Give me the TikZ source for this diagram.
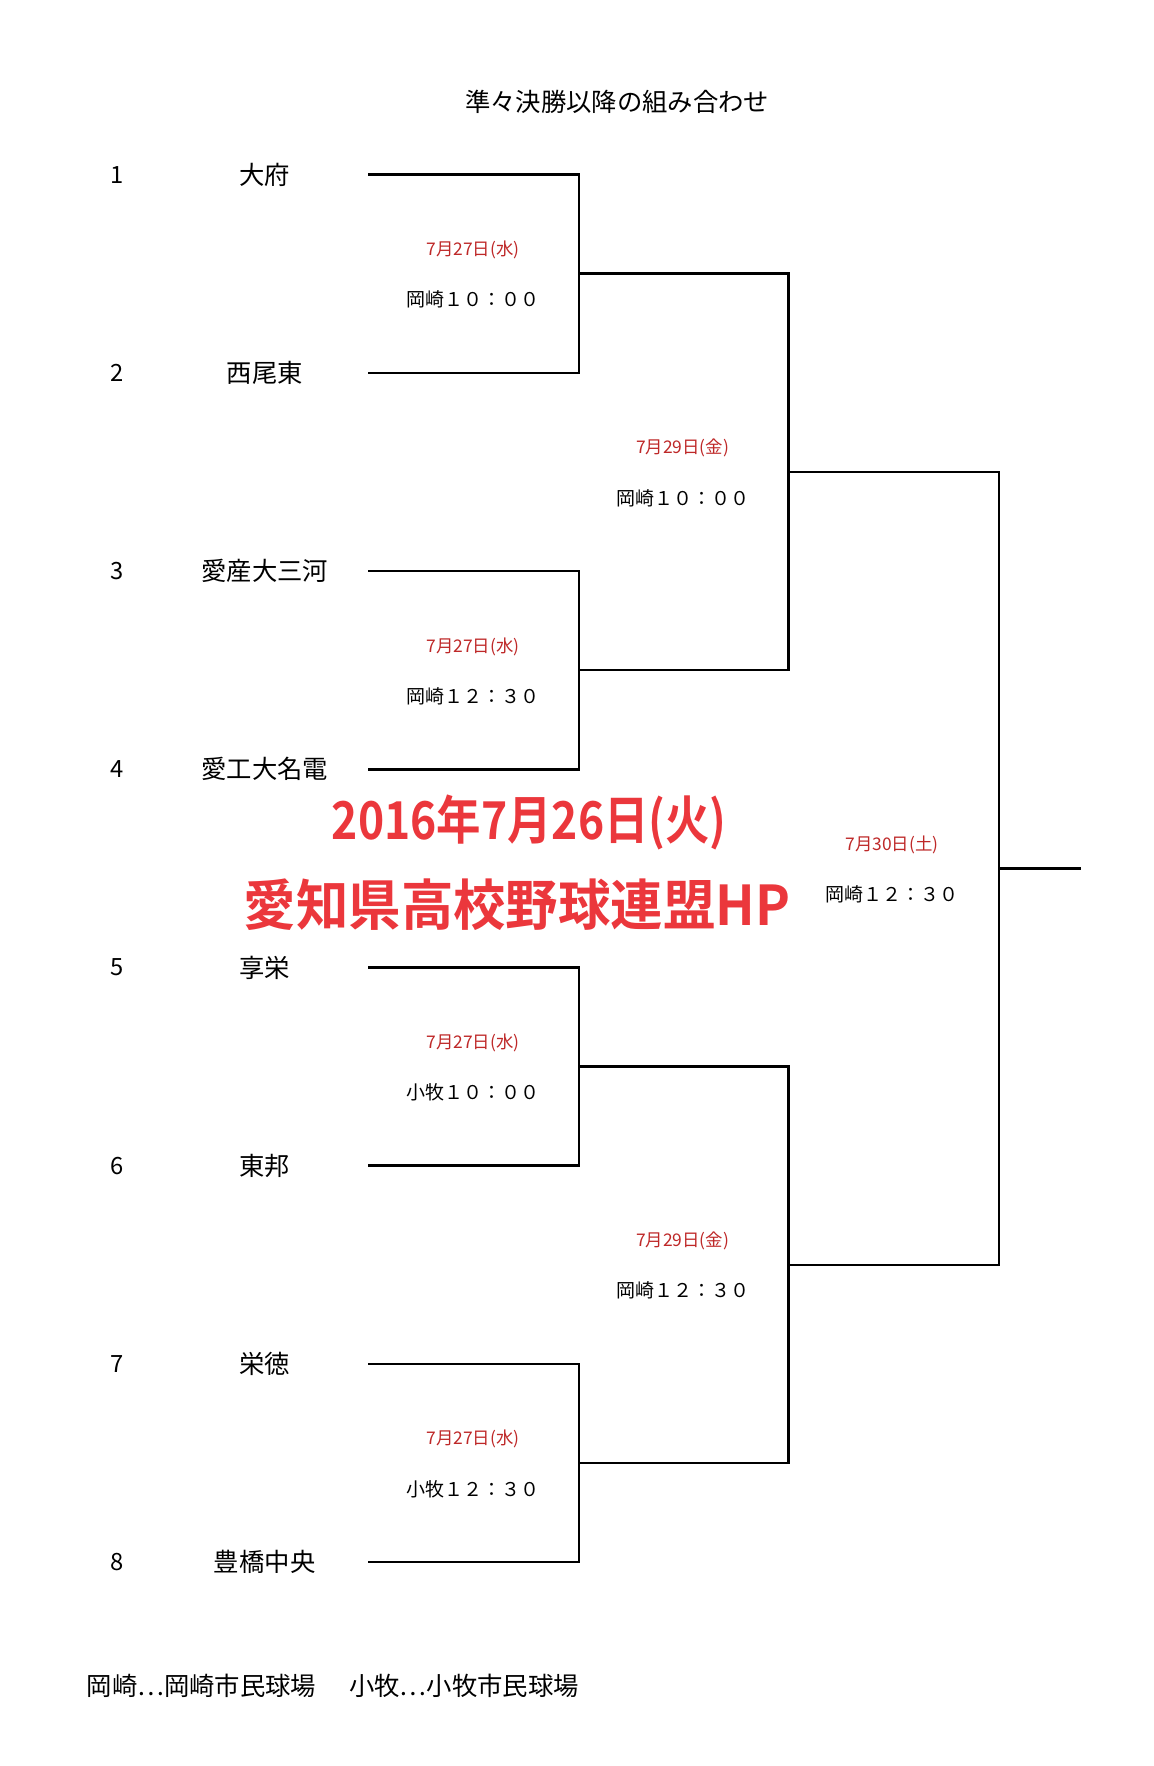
\documentclass[tikz,border=0pt]{standalone}
\usepackage{fontspec}
\setmainfont{Noto Sans CJK JP}
\newfontfamily\wmfont{Noto Sans CJK JP Bold}
\definecolor{datered}{RGB}{190,40,40}
\definecolor{markred}{RGB}{235,55,60}
\begin{document}
\begin{tikzpicture}[x=0.025cm,y=-0.025cm]
 \tikzset{
  br/.style={line width=1.6pt},
  team/.style={font=\fontsize{16}{18}\selectfont},
  seed/.style={font=\fontsize{15}{17}\selectfont},
  day/.style={text=datered, font=\fontsize{11}{13}\selectfont},
  place/.style={font=\fontsize{12}{14}\selectfont},
  wmark/.style={text=markred, font=\wmfont\fontsize{33}{36}\selectfont, xscale=0.85}
 }
 \useasboundingbox (0,0) rectangle (1024,1568);
 \node[font=\fontsize{16}{18}\selectfont] (title) at (548,90) {準々決勝以降の組み合わせ};
 % teams
 \foreach \n/\t [count=\i] in {1/大府, 2/西尾東, 3/愛産大三河, 4/愛工大名電,
                               5/享栄, 6/東邦, 7/栄徳, 8/豊橋中央} {
  \pgfmathsetmacro{\yy}{155+176*(\i-1)}
  \node[seed] (s\i) at (104,\yy) {\n};
  \node[team] (t\i) at (235,\yy) {\t};
  \coordinate (e\i) at (327,\yy);
 }
 % first round
 \foreach \a/\b/\m/\d/\p in {1/2/1/7月27日(水)/岡崎１０：００, 3/4/2/7月27日(水)/岡崎１２：３０,
                             5/6/3/7月27日(水)/小牧１０：００, 7/8/4/7月27日(水)/小牧１２：３０} {
  \coordinate (q\m) at (514,{(155+176*(\a-1)+155+176*(\b-1))/2});
  \draw[br] (e\a) -- (e\a -| q\m) -- (e\b -| q\m) -- (e\b);
  \node[day] (qd\m) at ([shift={(-94,-21)}]q\m) {\d};
  \node[place] (qp\m) at ([shift={(-94,23)}]q\m) {\p};
 }
 % semifinal
 \coordinate (h1) at (700,419);
 \coordinate (h2) at (700,1123);
 \draw[br] (q1) -- (q1 -| h1) -- (q2 -| h1) -- (q2);
 \draw[br] (q3) -- (q3 -| h2) -- (q4 -| h2) -- (q4);
 \node[day] (hd1) at (606,398) {7月29日(金)};
 \node[place] (hp1) at (606,442) {岡崎１０：００};
 \node[day] (hd2) at (606,1102) {7月29日(金)};
 \node[place] (hp2) at (606,1146) {岡崎１２：３０};
 % final
 \coordinate (f) at (887,771);
 \coordinate (w) at (960,771);
 \draw[br] (h1) -- (h1 -| f) -- (h2 -| f) -- (h2);
 \draw[br] (f) -- (w);
 \node[day] (fd) at (792,750) {7月30日(土)};
 \node[place] (fp) at (792,794) {岡崎１２：３０};
 % watermark
 \node[wmark] (m1) at (470,730) {2016年7月26日(火)};
 \node[wmark, xscale=1.18, yscale=1.05] (m2) at (459,803) {愛知県高校野球連盟HP};
 \node[anchor=west, font=\fontsize{16}{18}\selectfont] (foot) at (72,1497)
  {岡崎…岡崎市民球場\hspace{1.3em}小牧…小牧市民球場};
\end{tikzpicture}
\end{document}
